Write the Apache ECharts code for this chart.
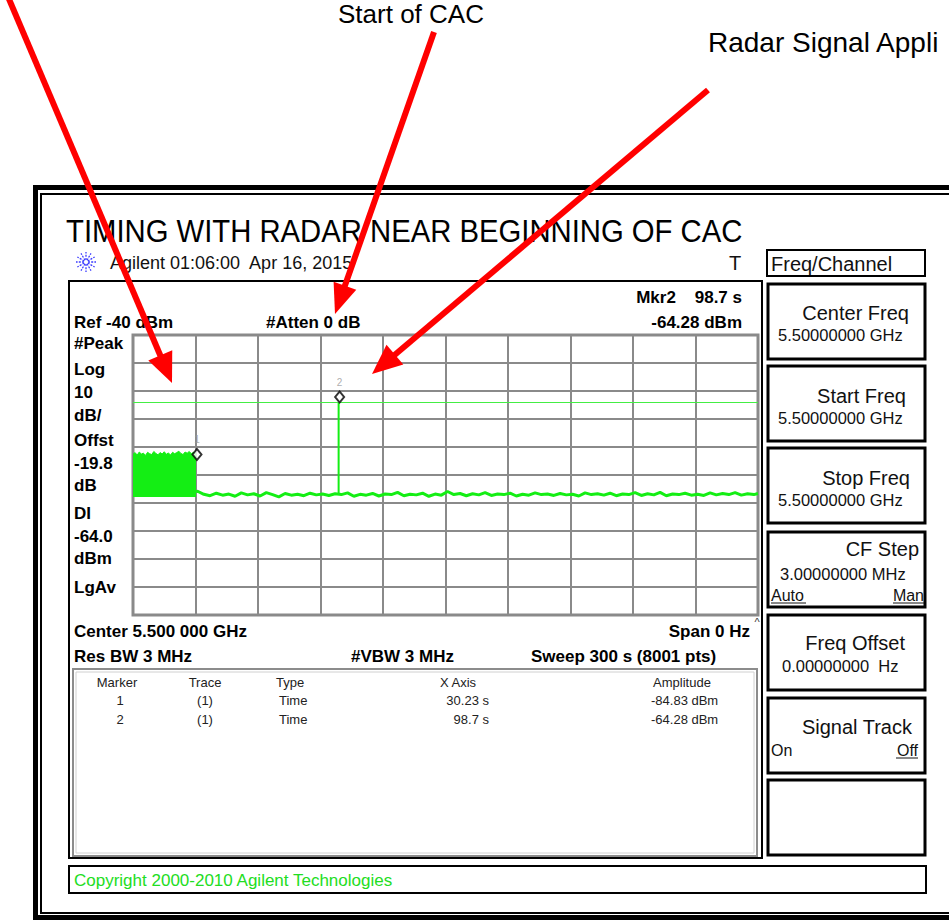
<!DOCTYPE html>
<html><head><meta charset="utf-8">
<script src="https://cdn.jsdelivr.net/npm/echarts@6/dist/echarts.min.js"></script>
<style>html,body{margin:0;padding:0;background:#fff}#c{width:949px;height:920px}</style>
</head><body><div id="c"></div>
<script>
// ---------------- data ----------------
const sweepRange = [0, 300];          // seconds (Span 0 Hz, Sweep 300 s)
const sweepTick = 30;                  // s per division
const amplitudeRange = [-140, -40];    // dBm (Ref -40 dBm, 10 dB/div)
const ampTick = 10;
const displayLine = -64.0;             // DI -64.0 dBm
// CAC start block (envelope top of the dense trace), seconds / dBm
const blockTop = [[0,-82.6],[1,-82.0],[2,-82.9],[3,-81.8],[4,-82.5],[5,-82.2],[6,-83.0],[7,-81.9],[8,-82.4],[9,-82.7],
  [10,-81.6],[11,-82.3],[12,-82.8],[13,-82.0],[14,-82.5],[15,-81.7],[16,-82.6],[17,-82.1],[18,-82.9],[19,-81.9],
  [20,-82.4],[21,-82.0],[22,-81.5],[23,-82.3],[24,-82.7],[25,-81.8],[26,-82.2],[27,-81.6],[28,-82.4],[29,-81.9],
  [30,-82.1],[30.23,-84.83]];
const blockFloor = -97.9;
// noise floor after the block
const noiseFloor = [[30.23,-96.0],[31,-95.8],[34,-96.9],[37,-97.4],[40,-96.5],[43,-97.2],[46,-96.8],[49,-97.6],[52,-96.4],[55,-97.1],
  [58,-96.7],[61,-97.5],[64,-96.3],[67,-97.0],[70,-97.8],[73,-96.6],[76,-97.2],[79,-96.9],[82,-97.4],[85,-96.5],
  [88,-97.1],[91,-96.8],[94,-97.3],[97,-96.7],[100,-97.0],[103,-96.4],[106,-97.6],[109,-96.9],[112,-97.2],[115,-96.6],
  [118,-97.5],[121,-96.8],[124,-97.0],[127,-96.2],[130,-97.4],[133,-96.9],[136,-97.1],[139,-96.5],[142,-97.6],[145,-96.8],
  [148,-97.2],[151,-95.9],[154,-97.0],[157,-96.6],[160,-97.4],[163,-96.7],[166,-97.1],[169,-96.3],[172,-97.3],[175,-96.8],
  [178,-97.0],[181,-96.5],[184,-97.5],[187,-96.9],[190,-97.2],[193,-96.4],[196,-97.0],[199,-96.8],[202,-97.3],[205,-96.6],
  [208,-97.1],[211,-96.9],[214,-97.5],[217,-96.4],[220,-97.0],[223,-96.7],[226,-97.2],[229,-96.5],[232,-97.4],[235,-96.8],
  [238,-97.0],[241,-96.3],[244,-97.3],[247,-96.7],[250,-97.1],[253,-96.2],[256,-97.4],[259,-96.8],[262,-97.0],[265,-96.5],
  [268,-97.2],[271,-96.9],[274,-97.3],[277,-96.4],[280,-97.1],[283,-96.6],[286,-97.0],[289,-96.3],[292,-97.2],[295,-96.7],
  [298,-97.0],[300,-96.6]];
// radar pulse
const radarSpike = [[98.7,-96.8],[98.7,-64.28]];
// markers
const markerNames = ['1','2'];
const markerTimes = [30.23, 98.7];
const markerAmps = [-84.83, -64.28];
// marker table
const tableHeader = ['Marker','Trace','Type','X Axis','Amplitude'];
const tableRows = [['1','(1)','Time','30.23 s','-84.83 dBm'],['2','(1)','Time','98.7 s','-64.28 dBm']];
// left annotation column
const leftLabels = ['#Peak','Log','10','dB/','Offst','-19.8','dB','DI','-64.0','dBm','LgAv'];
// soft keys
const softKeyTitles = ['Center Freq','Start Freq','Stop Freq','CF Step','Freq Offset','Signal Track',''];
const softKeyValues = ['5.50000000 GHz','5.50000000 GHz','5.50000000 GHz','3.00000000 MHz','0.00000000  Hz','',''];

// ---------------- drawing ----------------
const FF = '"Liberation Sans", Arial, Helvetica, sans-serif';
const G = [];
function txt(x, y, text, o = {}) {
  G.push({type:'text', x, y, z:o.z||20, silent:true, scaleX:o.sx||1, originX:0, originY:0,
    style:{text, x:0, y:0, fill:o.fill||'#000', font:o.font||('bold 17px '+FF),
      textAlign:o.align||'left', align:o.align||'left', textVerticalAlign:'middle', verticalAlign:'middle'}});
}
function rect(x, y, w, h, stroke, lw, z) {
  G.push({type:'rect', z:z||5, silent:true, shape:{x, y, width:w, height:h}, style:{fill:'none', stroke, lineWidth:lw}});
}
function line(x1, y1, x2, y2, stroke, lw, z, dash) {
  G.push({type:'line', z:z||5, silent:true, shape:{x1, y1, x2, y2}, style:{stroke, lineWidth:lw, lineDash:dash||null}});
}
function arrow(sx, sy, tx, ty, len, hw) {
  const dx = tx - sx, dy = ty - sy, L = Math.hypot(dx, dy), ux = dx / L, uy = dy / L;
  const bx = tx - ux * len, by = ty - uy * len, nx = -uy, ny = ux;
  line(sx, sy, bx + ux * 2, by + uy * 2, '#ff0000', 6, 100);
  G.push({type:'polygon', z:100, silent:true, shape:{points:[[tx,ty],[bx+nx*hw,by+ny*hw],[bx-nx*hw,by-ny*hw]]}, style:{fill:'#ff0000'}});
}

// outer frame
rect(35.5, 187.5, 1000, 730, '#000', 5);
rect(41, 194, 1000, 719, '#000', 2);
// main screen box
rect(69, 281, 693, 577, '#000', 2);
// marker table box
rect(73, 669, 684, 187, '#8c8c8c', 2);
rect(76, 672, 678, 181, '#d0d0d0', 1);
// copyright box
rect(69, 866, 857, 27, '#000', 2);
txt(74, 880, 'Copyright 2000-2010 Agilent Technologies', {font:'17px '+FF, fill:'#22dd22'});

// heading
txt(66, 231, 'TIMING WITH RADAR NEAR BEGINNING OF CAC', {font:'32px '+FF, sx:0.915, fill:'#000'});
txt(110, 263, 'Agilent 01:06:00  Apr 16, 2015', {font:'18px '+FF, fill:'#111'});
txt(735, 263, 'T', {font:'20px '+FF, fill:'#111', align:'center'});
// Agilent logo spark
for (let i = 0; i < 12; i++) {
  const a = i * Math.PI / 6;
  line(86 + Math.cos(a) * 2, 262 + Math.sin(a) * 2, 86 + Math.cos(a) * 10, 262 + Math.sin(a) * 10, '#3b3bff', 1.3, 6, [2, 1.2]);
}

// top info
txt(742, 297, 'Mkr2    98.7 s', {align:'right'});
txt(74, 322, 'Ref -40 dBm');
txt(266, 322, '#Atten 0 dB');
txt(742, 322, '-64.28 dBm', {align:'right'});
const leftY = [343, 369, 392, 415, 440, 463, 485, 513, 536, 558, 587];
leftLabels.forEach((s, i) => txt(74, leftY[i], s));
// bottom info
txt(74, 631, 'Center 5.500 000 GHz');
txt(750, 631, 'Span 0 Hz', {align:'right'});
txt(757, 622, '^', {font:'11px '+FF, fill:'#333', align:'center'});
txt(74, 656, 'Res BW 3 MHz');
txt(351, 656, '#VBW 3 MHz');
txt(531, 656, 'Sweep 300 s (8001 pts)');
// marker table text
const colX = [117, 205, 276, 458, 682];
const colAlignH = ['center','center','left','center','center'];
tableHeader.forEach((s, i) => txt(colX[i], 682, s, {font:'13px '+FF, fill:'#222', align:colAlignH[i]}));
const rowX = [120, 205, 279, 489, 651];
const rowAlign = ['center','center','left','right','left'];
tableRows.forEach((r, j) => r.forEach((s, i) => txt(rowX[i], 700 + j * 19.5, s, {font:'13px '+FF, fill:'#222', align:rowAlign[i]})));

// soft keys
rect(767, 250, 158, 26, '#000', 2);
txt(771, 264, 'Freq/Channel', {font:'20px '+FF, fill:'#111'});
const keyTop = [283, 365, 447, 531, 614, 697, 779];
const titleRight = [909, 906, 910, 919, 905, 912, 0];
const titleDy = [30, 31, 31, 18, 29, 30, 0];
const valueDy = [52, 53, 53, 43, 52, 0, 0];
const valueX = [778, 778, 778, 780, 782, 0, 0];
keyTop.forEach((t, i) => {
  rect(768, t + 1, 157, 75, '#000', 3);
  if (softKeyTitles[i]) txt(titleRight[i], t + titleDy[i], softKeyTitles[i], {font:'20px '+FF, fill:'#111', align:'right'});
  if (softKeyValues[i]) txt(valueX[i], t + valueDy[i], softKeyValues[i], {font:'16.5px '+FF, fill:'#111'});
});
txt(771, 595, 'Auto', {font:'16px '+FF, fill:'#111'});
line(771, 603, 806, 603, '#111', 1, 20);
txt(924, 595, 'Man', {font:'16px '+FF, fill:'#111', align:'right'});
line(893, 603, 924, 603, '#111', 1, 20);
txt(771, 750, 'On', {font:'16px '+FF, fill:'#111'});
txt(918, 750, 'Off', {font:'16px '+FF, fill:'#111', align:'right'});
line(896, 758, 918, 758, '#111', 1, 20);

// annotations
txt(411, 14, 'Start of CAC', {font:'26px '+FF, align:'center', fill:'#000'});
txt(708, 42, 'Radar Signal Appli', {font:'28px '+FF, fill:'#000'});
arrow(6, -8, 172, 383, 30, 13);
arrow(434, 32, 335, 314, 30, 12);
arrow(708, 90, 372, 374, 30, 13);

const GREEN = '#14ee14';
const chart = echarts.init(document.getElementById('c'), null, {renderer:'svg', width:949, height:920});
chart.setOption({
  animation:false,
  backgroundColor:'#fff',
  grid:{left:133, top:335, width:625, height:280, show:true, borderColor:'#8a8a8a', borderWidth:3, backgroundColor:'#fff', containLabel:false},
  xAxis:{type:'value', min:sweepRange[0], max:sweepRange[1], interval:sweepTick,
    axisLabel:{show:false}, axisTick:{show:false}, axisLine:{show:false},
    splitLine:{show:true, lineStyle:{color:'#8a8a8a', width:2}}},
  yAxis:{type:'value', min:amplitudeRange[0], max:amplitudeRange[1], interval:ampTick,
    axisLabel:{show:false}, axisTick:{show:false}, axisLine:{show:false},
    splitLine:{show:true, lineStyle:{color:'#8a8a8a', width:2}}},
  graphic:{elements:G},
  series:[
    {type:'line', data:blockTop, showSymbol:false, silent:true, z:3,
      lineStyle:{color:GREEN, width:1}, areaStyle:{color:GREEN, opacity:1, origin:blockFloor}},
    {type:'line', data:noiseFloor, showSymbol:false, silent:true, z:3,
      lineStyle:{color:GREEN, width:3},
      markLine:{silent:true, symbol:['none','none'], label:{show:false},
        lineStyle:{color:'#44ee44', width:1, type:'solid'}, data:[{yAxis:displayLine}]}},
    {type:'line', data:radarSpike, showSymbol:false, silent:true, z:3, lineStyle:{color:GREEN, width:2}},
    {type:'scatter', silent:true, z:5,
      data:markerTimes.map((t, i) => ({name:markerNames[i], value:[t, markerAmps[i]]})),
      symbol:'diamond', symbolSize:[9,11], symbolOffset:[1,-6],
      itemStyle:{color:'#fff', borderColor:'#000', borderWidth:2},
      label:{show:true, position:'top', distance:3, formatter:'{b}', color:'#999', fontSize:10, fontFamily:FF}}
  ]
});
</script></body></html>
